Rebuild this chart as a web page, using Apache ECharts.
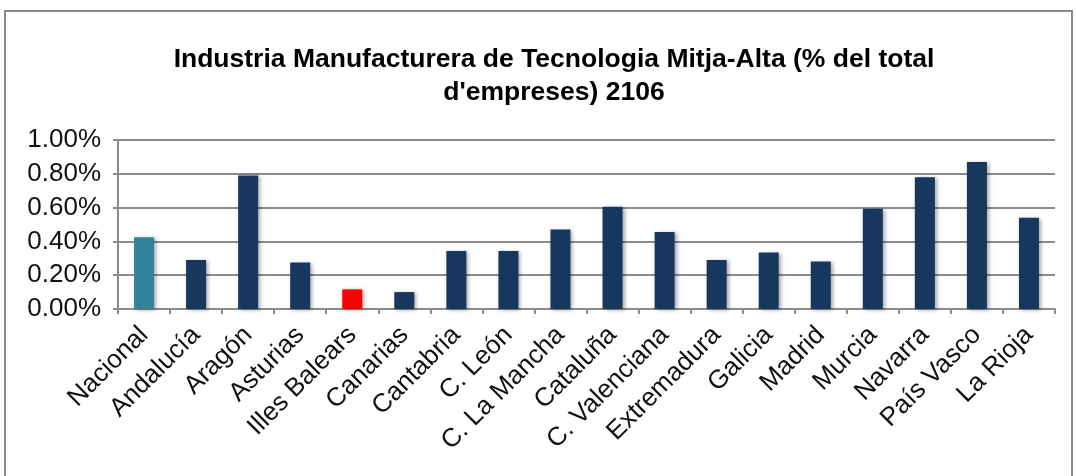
<!DOCTYPE html>
<html>
<head>
<meta charset="utf-8">
<script src="https://cdn.jsdelivr.net/npm/echarts@6/dist/echarts.min.js"></script>
<style>
  html, body { margin: 0; padding: 0; background: #fff; }
  #chart { width: 1076px; height: 476px; }
</style>
</head>
<body>
<div id="chart"></div>
<script>
  // regions, values in % of total companies
  const regions = ['Nacional', 'Andalucía', 'Aragón', 'Asturias', 'Illes Balears', 'Canarias',
    'Cantabria', 'C. León', 'C. La Mancha', 'Cataluña', 'C. Valenciana', 'Extremadura',
    'Galicia', 'Madrid', 'Murcia', 'Navarra', 'País Vasco', 'La Rioja'];
  const values = [0.425, 0.29, 0.79, 0.275, 0.116, 0.10,
    0.343, 0.343, 0.47, 0.605, 0.456, 0.29,
    0.334, 0.281, 0.593, 0.78, 0.87, 0.54];
  const highlight = { 'Nacional': '#31849B', 'Illes Balears': '#FF0000' };
  const baseColor = '#17375E';

  const chart = echarts.init(document.getElementById('chart'));
  const font = 'Liberation Sans, Arial, Helvetica, sans-serif';

  chart.setOption({
    animation: false,
    title: {
      text: 'Industria Manufacturera de Tecnologia Mitja-Alta (% del total\nd\'empreses) 2106',
      left: 549, top: 38, textAlign: 'center',
      textStyle: { fontFamily: font, fontSize: 26.5, fontWeight: 'bold', color: '#000', lineHeight: 33 }
    },
    graphic: [{
      type: 'rect', silent: true,
      shape: { x: 5, y: 11, width: 1067, height: 470 },
      style: { fill: 'none', stroke: '#8a8a8a', lineWidth: 2 }
    }],
    grid: { left: 118, right: 21, top: 140, bottom: 167 },
    xAxis: {
      type: 'category',
      data: regions,
      axisLine: { lineStyle: { color: '#8c8c8c', width: 2 } },
      axisTick: { show: true, length: 5, lineStyle: { color: '#8c8c8c', width: 2 } },
      axisLabel: { rotate: 45, fontFamily: font, fontSize: 26, color: '#111', margin: 22, interval: 0 }
    },
    yAxis: {
      type: 'value',
      min: 0, max: 1, interval: 0.2,
      axisLine: { show: true, lineStyle: { color: '#8c8c8c', width: 2 } },
      axisTick: { show: true, length: 5, lineStyle: { color: '#8c8c8c', width: 2 } },
      splitLine: { lineStyle: { color: '#8c8c8c', width: 2 } },
      axisLabel: {
        fontFamily: font, fontSize: 26, color: '#111', margin: 17,
        formatter: v => v.toFixed(2) + '%'
      }
    },
    series: [{
      type: 'bar',
      barWidth: 20,
      data: regions.map((r, i) => ({
        value: values[i],
        itemStyle: { color: highlight[r] || baseColor }
      })),
      itemStyle: { shadowBlur: 4, shadowColor: 'rgba(0,0,0,0.35)', shadowOffsetX: 2, shadowOffsetY: 1 }
    }]
  });
</script>
</body>
</html>
